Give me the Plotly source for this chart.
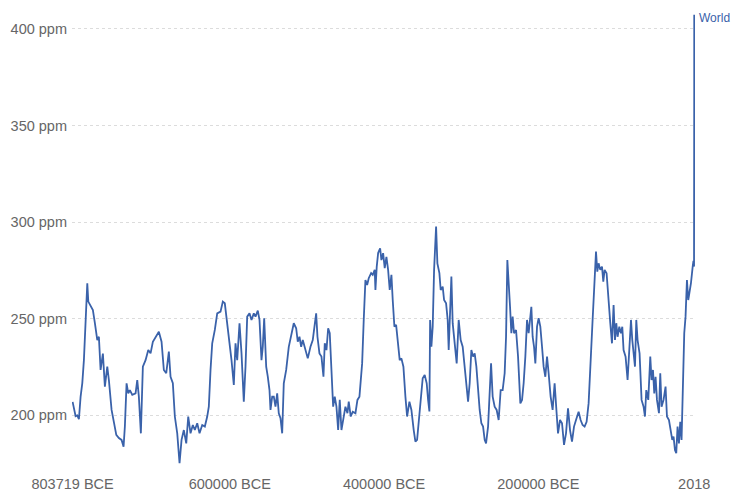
import plotly.graph_objects as go

# Atmospheric CO2 concentration, World (ppm), 803719 BCE – 2018
years = [
    -803719, -802035, -799833, -797631, -795558, -793356, -791154, -789081, -786879, -784677,
    -783381, -780402, -777422, -774832, -771723, -769650, -767448, -764468, -761878, -758769,
    -756696, -753198, -750219, -747110, -743742, -740244, -737654, -735970, -733767, -731565,
    -729493, -726384, -722109, -719907, -717834, -715243, -712652, -709155, -705657, -702678,
    -699698, -696201, -691926, -688428, -685449, -682340, -678972, -676770, -673790, -671200,
    -668091, -665111, -662520, -659541, -656432, -653841, -650862, -647882, -645292, -642183,
    -639203, -635706, -632338, -629229, -627156, -624954, -622752, -619384, -616275, -612000,
    -609020, -606430, -603321, -600341, -597750, -594771, -592569, -590367, -587387, -584796,
    -581817, -579615, -577413, -574433, -571842, -568863, -566661, -563681, -561479, -558888,
    -557204, -555391, -552800, -550727, -548525, -547230, -545028, -542955, -540753, -538551,
    -536478, -534276, -532074, -530001, -526892, -523524, -520026, -517047, -513938, -511865,
    -509663, -507461, -505388, -501891, -498911, -495414, -492434, -490232, -488030, -486346,
    -483755, -481164, -478574, -476890, -474687, -472485, -470413, -468210, -466008, -463936,
    -461733, -459531, -457459, -455256, -452666, -450075, -447484, -445800, -443209, -440618,
    -437121, -434530, -431939, -430255, -428442, -426369, -424167, -421965, -419892, -416783,
    -414710, -412119, -411213, -409529, -407715, -405125, -403440, -401238, -399165, -396963,
    -394761, -392689, -390486, -388802, -386600, -384398, -382325, -379734, -377532, -374942,
    -372351, -370149, -367169, -364578, -361599, -359397, -357195, -355122, -352531, -349940,
    -347350, -344759, -342946, -341256, -340345, -338670, -336986, -335173, -332582, -330898,
    -328307, -326623, -324033, -322219, -319628, -317556, -316260, -314447, -312762, -311079,
    -308488, -305897, -303306, -300716, -298125, -295534, -293720, -291130, -289057, -286854,
    -284652, -282579, -280377, -278175, -276103, -273900, -271698, -269625, -267812, -265221,
    -263537, -261335, -259262, -256672, -254081, -251490, -248899, -246309, -243718, -241904,
    -240220, -238536, -236722, -235038, -233354, -231541, -228950, -226359, -225582, -223380,
    -221178, -219105, -216903, -214701, -212628, -210815, -209130, -207446, -205633, -203949,
    -201746, -199673, -197472, -195269, -193197, -190995, -188793, -186720, -184129, -181538,
    -178948, -176357, -174544, -171953, -169362, -166771, -164181, -161590, -158999, -156408,
    -153818, -151227, -147859, -145268, -142678, -140087, -137496, -134905, -132309, -129723,
    -127132, -125319, -123634, -121950, -119748, -117545, -115862, -114177, -111587, -110291,
    -108478, -106794, -104591, -102519, -100705, -99021, -97337, -95135, -92933, -91249,
    -89565, -86974, -84383, -81793, -79979, -78295, -76611, -74797, -73113, -71429,
    -68839, -66248, -63657, -61844, -60159, -57569, -54978, -53294, -51481, -49796,
    -48112, -46299, -43708, -42024, -40340, -37749, -35158, -33345, -30754, -28163,
    -26479, -24795, -22981, -21297, -19613, -17800, -16116, -14431, -12618, -10934,
    -9250, -7436, -5753, -4068, -2255, 0, 1000, 1750, 1850, 1900,
    1950, 1980, 2000, 2018,
]

co2_ppm = [
    207.0, 203.0, 199.6, 200.0, 198.0, 209.7, 216.7, 228.6, 249.4, 268.4,
    258.9, 257.0, 254.5, 247.8, 239.0, 240.7, 223.5, 232.0, 214.9, 225.2,
    218.3, 202.8, 195.9, 189.9, 188.3, 187.3, 183.8, 194.2, 216.6, 211.4,
    213.1, 210.6, 211.4, 218.3, 209.7, 190.7, 225.2, 228.6, 233.8, 232.1,
    238.1, 240.7, 243.3, 238.1, 223.5, 221.8, 233.0, 220.0, 216.6, 199.4,
    190.7, 175.2, 187.3, 192.4, 185.5, 199.4, 190.7, 195.0, 192.4, 195.9,
    190.7, 195.0, 194.2, 199.4, 204.5, 223.5, 237.3, 244.2, 252.8, 253.7,
    258.9, 258.0, 247.7, 237.3, 228.6, 215.7, 237.3, 228.6, 247.7, 232.1,
    207.1, 225.2, 251.1, 252.8, 249.4, 252.8, 251.1, 254.2, 249.4, 228.6,
    235.5, 250.3, 225.2, 220.0, 213.1, 202.8, 209.7, 209.7, 204.5, 211.4,
    201.1, 198.5, 190.7, 216.6, 223.5, 235.5, 242.5, 247.7, 245.1, 238.1,
    240.7, 235.5, 239.0, 233.8, 229.5, 235.5, 239.0, 245.9, 252.8, 240.7,
    232.1, 230.4, 220.0, 237.3, 233.8, 245.1, 242.5, 223.5, 204.5, 209.7,
    204.5, 192.4, 208.0, 192.4, 199.4, 204.5, 201.1, 207.1, 199.4, 201.9,
    201.1, 208.0, 209.7, 220.0, 226.9, 249.4, 270.1, 267.5, 271.0, 273.6,
    272.7, 275.3, 264.9, 277.0, 284.0, 286.5, 280.4, 284.0, 276.2, 282.1,
    275.3, 264.9, 272.7, 259.7, 245.9, 246.8, 239.0, 228.6, 229.5, 225.2,
    209.7, 199.4, 207.1, 202.8, 192.4, 186.4, 187.3, 195.9, 207.1, 219.2,
    220.9, 216.6, 208.0, 202.0, 249.4, 235.5, 245.9, 275.3, 297.7, 278.7,
    273.6, 264.9, 266.6, 259.7, 258.0, 249.4, 233.8, 254.5, 271.8, 247.7,
    235.5, 226.9, 249.4, 239.0, 235.5, 225.2, 214.9, 207.1, 216.6, 233.8,
    230.4, 232.1, 225.2, 211.4, 202.8, 195.9, 194.2, 187.3, 185.5, 194.2,
    209.7, 226.9, 209.7, 204.5, 202.8, 197.6, 213.1, 213.1, 221.8, 240.7,
    280.4, 270.1, 256.2, 242.5, 251.1, 242.5, 244.2, 230.4, 225.2, 206.2,
    208.0, 216.6, 230.4, 249.4, 242.5, 251.1, 256.2, 240.7, 235.5, 226.9,
    245.9, 250.3, 245.9, 235.5, 225.2, 220.0, 230.4, 221.8, 209.7, 202.8,
    216.6, 201.1, 190.7, 197.6, 195.9, 184.7, 190.7, 203.6, 192.4, 186.4,
    194.2, 197.6, 201.9, 197.6, 195.0, 194.2, 196.7, 206.2, 225.2, 249.4,
    270.1, 284.8, 274.4, 278.7, 275.3, 277.0, 269.2, 275.3, 273.6, 264.9,
    256.2, 247.7, 237.3, 257.1, 239.0, 247.7, 240.7, 245.9, 242.5, 245.9,
    233.8, 230.4, 218.3, 233.8, 249.4, 239.0, 233.8, 225.2, 249.4, 239.0,
    232.1, 208.0, 204.5, 199.4, 213.1, 208.0, 230.4, 218.3, 223.5, 211.4,
    220.0, 208.0, 201.1, 221.8, 204.5, 208.0, 214.9, 199.4, 197.6, 190.7,
    187.3, 189.0, 182.1, 180.4, 194.2, 185.5, 196.7, 187.3, 214.9, 242.5,
    251.1, 270.1, 259.7, 263.2, 268.4, 277.0, 280.0, 277.0, 285.0, 296.0,
    311.0, 339.0, 369.0, 407.4,
]

x_tick_vals = [-803719, -600000, -400000, -200000, 2018]
x_tick_text = ["803719 BCE", "600000 BCE", "400000 BCE", "200000 BCE", "2018"]
y_tick_vals = [200, 250, 300, 350, 400]
y_tick_text = ["200 ppm", "250 ppm", "300 ppm", "350 ppm", "400 ppm"]

series_name = "World"
line_color = "#3a62aa"
label_color = "#666666"
font_family = "Liberation Sans, Arial, sans-serif"

fig = go.Figure()
fig.add_trace(go.Scatter(
    x=years,
    y=co2_ppm,
    mode="lines",
    name=series_name,
    line=dict(color=line_color, width=1.8),
    hoverinfo="skip",
))

# Series label next to the last value
fig.add_annotation(
    x=years[-1], y=co2_ppm[-1],
    text=series_name,
    showarrow=False,
    xanchor="left", yanchor="middle",
    xshift=3, yshift=-3,
    font=dict(family=font_family, size=12, color=line_color),
)

fig.update_layout(
    width=732, height=491,
    margin=dict(l=72, r=37, t=10, b=20),
    paper_bgcolor="white",
    plot_bgcolor="white",
    showlegend=False,
    font=dict(family=font_family, size=14.5, color=label_color),
    xaxis=dict(
        range=[-804500, 3000],
        tickvals=x_tick_vals,
        ticktext=x_tick_text,
        showgrid=False,
        zeroline=False,
        showline=False,
        ticks="",
        automargin=False,
        ticklabelstandoff=2,
        tickfont=dict(size=14.5, color=label_color),
    ),
    yaxis=dict(
        range=[171.2, 409.83],
        tickvals=y_tick_vals,
        ticktext=y_tick_text,
        showgrid=True,
        gridcolor="#dcdcdc",
        gridwidth=1,
        griddash="dot",
        zeroline=False,
        showline=False,
        ticks="",
        automargin=False,
        ticklabelstandoff=4,
        tickfont=dict(size=14.5, color=label_color),
    ),
)

fig.write_html("out.html")
